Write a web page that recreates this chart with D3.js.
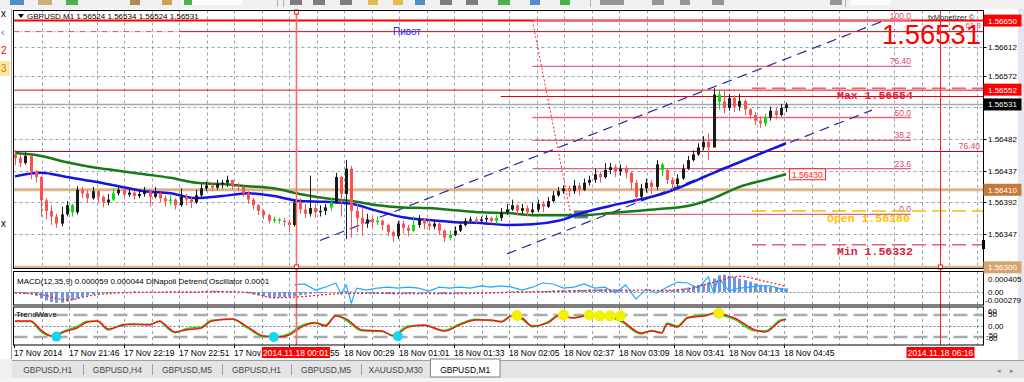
<!DOCTYPE html>
<html>
<head>
<meta charset="utf-8">
<script src="https://cdn.jsdelivr.net/npm/d3@7"></script>
<style>
body { margin: 0; background: #f0f0f0; overflow: hidden; }
text { font-family: "Liberation Sans", Arial, sans-serif; }
.mono { font-family: "Liberation Mono", "Courier New", monospace; font-weight: bold; }
</style>
</head>
<body>
<div id="container"></div>
<script>
// prices are in points (0.00001) above 1.56000
var base = 1.56;
var firstOpen = 460;
var closes = [455,448,458,436,428,395,380,372,362,375,
  388,378,410,405,398,408,400,392,396,405,
  410,403,406,401,404,408,400,405,398,394,
  396,388,400,396,392,402,412,416,413,418,
  420,424,416,414,405,396,388,380,374,366,
  368,366,364,360,392,382,376,384,378,380,
  385,392,428,404,440,380,370,362,368,364,
  366,360,350,344,362,356,352,360,368,362,
  358,362,352,342,346,352,360,366,368,366,
  368,370,366,370,378,382,388,380,384,378,
  382,390,386,394,402,408,412,408,416,410,
  420,424,432,428,438,442,436,440,434,420,
  400,412,420,414,446,438,424,418,426,440,
  452,460,470,478,470,545,535,526,540,528,
  536,524,516,508,504,512,522,516,526,531];
var highs = [466,460,464,458,438,430,398,388,376,386,
  394,390,415,414,410,414,410,402,404,412,
  416,412,412,408,410,414,410,414,406,402,
  402,398,412,404,400,410,418,422,420,424,
  424,430,424,420,416,408,398,390,382,376,
  372,370,370,368,396,398,390,430,390,388,
  390,398,434,430,452,444,390,385,376,372,
  372,368,362,352,366,366,360,372,374,370,
  368,368,364,354,352,358,364,370,372,372,
  372,374,372,374,384,390,396,390,390,388,
  392,396,394,400,408,414,416,416,424,420,
  426,430,440,436,448,448,446,446,444,436,
  424,418,426,424,452,448,440,428,432,446,
  458,466,476,486,490,554,552,550,546,544,
  546,538,526,520,514,518,528,526,532,534];
var lows = [445,442,446,425,420,372,368,360,356,358,
  372,372,375,398,392,396,392,385,388,394,
  402,398,400,396,398,400,386,398,392,386,
  388,382,386,388,384,390,400,408,408,410,
  412,414,410,408,400,390,382,374,368,362,
  363,362,358,350,358,376,370,372,370,372,
  374,380,390,372,340,342,350,345,356,356,
  360,352,344,336,340,348,344,350,356,354,
  352,354,346,336,338,344,350,358,362,362,
  364,364,362,362,366,374,380,374,376,372,
  376,378,378,384,392,400,404,400,404,402,
  408,416,420,420,426,432,428,430,426,410,
  392,396,406,404,410,430,418,410,412,424,
  438,450,458,466,452,470,524,518,522,520,
  522,516,510,502,498,500,508,510,514,520];
var greenBars = [11,19,30,50,51,61,70,77,84,93,125,136,145];

// moving averages, read every 5 bars
var maIdx = [0,5,10,15,20,25,30,35,40,45,50,55,60,65,70,75,80,85,90,95,100,105,110,115,120,125,130,135,140,145,149];
var maBlue = [429,434,428,422,415,408,405,398,401,405,401,394,393,390,380,371,367,364,363,360,361,366,378,387,395,404,418,434,449,464,476];
var maGreen = [462,458,449,442,437,432,427,420,418,415,412,404,398,394,388,385,384,381,378,377,374,374,374,377,380,383,387,398,414,424,432];

var priceTicks = [1.56612,1.56572,1.56527,1.56482,1.56437,1.56392,1.56347];
var priceTickText = ["1.56612","1.56572","","1.56482","1.56437","1.56392","1.56347"];

// horizontal levels with their axis box colours
var levelPrices = [1.56650, 1.56552, 1.56531, 1.56410, 1.56300];
var levelBoxes = ["#ff0000", "#ff0000", "#000000", "#c8793a", "#d9a36e"];

var fibLow = 1.56375, fibHigh = 1.56650;
var fibLevels = [0, 23.6, 38.2, 50, 76.4, 100];
var fibText = ["0.0", "23.6", "38.2", "50.0", "76.40", "100.0"];

var timeLabels = ["17 Nov 2014","17 Nov 21:46","17 Nov 22:19","17 Nov 22:51","17 Nov 23:23","17 Nov 23:55",
  "18 Nov 00:29","18 Nov 01:01","18 Nov 01:33","18 Nov 02:05","18 Nov 02:37","18 Nov 03:09",
  "18 Nov 03:41","18 Nov 04:13","18 Nov 04:45"];
var markSlots = [10.25, 33.69];
var markText = ["2014.11.18 00:01", "2014.11.18 06:16"];

// MACD histogram, 1e-6 units, one per bar
var macdHist = [-40,-50,-60,-80,-120,
  -200,-260,-310,-340,-330,-300,-260,-200,
  -150,-110,-80,-60,-40,
  -30,-20,-10,0,10,20,10,0,-10,-20,-20,-10,0,10,-10,-30,-20,-10,10,30,40,40,30,20,10,0,-20,
  -50,-80,-110,-140,-160,-170,-170,-160,-150,-130,
  -100,-80,-60,-40,-40,-30,-20,-10,10,30,
  20,-10,-30,-40,-50,-50,-60,-70,-70,-60,-50,
  -40,-40,-40,-30,-30,-40,-50,-60,-60,-50,-40,-30,-20,-10,-10,-10,0,0,10,20,
  30,30,20,20,20,30,30,40,50,50,60,60,60,70,70,80,80,90,90,80,
  80,70,60,40,20,0,0,10,20,40,
  50,60,80,110,140,180,220,260,300,
  420,520,540,510,470,420,
  370,320,270,230,200,170,150,130,110];
var macdSig = [-30,-80,-250,-100,-30,-10,0,0,10,-10,-180,-150,-80,-40,-40,-50,-50,-50,-40,-20,0,20,40,60,60,50,100,300,490,330,180];
var dinIdx = [54,56,58,60,62,63,64,65,66,68,70,72,74,76,78,80,82,84,86,88,90,92,94,96,98,100,102,104,106,108,110,112,114,116,118,120,122,124,126,128,130,132,134,135,136,138,140,142,144,146,148,149];
var dinVal = [220,250,60,150,280,-60,220,-340,120,60,120,150,120,150,120,30,150,120,150,120,190,150,190,150,60,150,280,250,120,150,250,120,150,-30,220,-220,90,-30,150,310,280,120,470,-30,430,30,120,150,190,190,90,90];

// TrendWave
var waveIdx = [0,3,5,7,10,12,14,16,18,21,23,26,28,29,31,33,36,38,42,45,48,51,53,55,58,60,62,64,67,71,73,76,79,83,86,89,92,94,96,98,100,103,105,108,110,114,117,121,123,125,126,128,130,134,135,139,143,145,148,149];
var waveRed = [23,23,-18,-45,-23,-9,18,23,-14,5,9,5,23,5,-27,-18,-9,23,32,-5,-45,-50,-41,-9,14,0,45,32,-18,-23,-45,-5,5,-23,5,27,27,18,45,36,0,14,45,36,45,45,27,-32,-23,-32,9,-5,36,50,59,36,-18,-27,23,30];
var waveGreen = [20,20,-25,-45,-18,-2,22,20,-18,8,6,8,20,0,-30,-12,-4,26,30,-10,-48,-47,-35,-2,16,4,48,26,-22,-25,-42,0,2,-20,10,30,24,22,47,30,-4,20,46,38,44,44,22,-36,-20,-30,14,0,40,52,56,30,-22,-22,28,32];
var cyanDots = [8, 50, 74], cyanVals = [-48, -50, -46];
var yellowDots = [97,106,111,113,115,117,136], yellowVals = [48,50,50,46,46,46,58];

var tabNames = ["GBPUSD,H1","GBPUSD,H4","GBPUSD,M5","GBPUSD,H1","GBPUSD,M5","XAUUSD,M30","GBPUSD,M1"];

// ---- layout ----
var width = 1024, height = 382;
var L = 13.5, R = 983.5;

var svg = d3.select("#container").append("svg")
  .attr("width", width).attr("height", height);

var x = d3.scaleLinear().domain([0, closes.length - 1]).range([15, 786]);
var xs = d3.scaleLinear().domain([0, 2]).range([14, 69]);   // time slots, label every 2
var y = d3.scaleLinear().domain([1.56299, 1.56665]).range([268, 10]);
var my = d3.scaleLinear().domain([-405e-6, 623e-6]).range([305, 272]);
var wy = d3.scaleLinear().domain([-86, 86]).range([345, 307]);
function py(v) { return y(base + v / 1e5); }

// window chrome
svg.append("rect").attr("width", width).attr("height", height).attr("fill", "#f0f0f0");
svg.append("rect").attr("x", 0).attr("y", 9).attr("width", 12).attr("height", 350).attr("fill", "#fff");
svg.append("line").attr("x1", 11.5).attr("x2", 11.5).attr("y1", 9).attr("y2", 359).attr("stroke", "#a0a0a0");
svg.append("rect").attr("x", 0).attr("y", 61).attr("width", 10).attr("height", 15).attr("fill", "#f8e9a0");
[["x", 17, "#000"], ["\u2039", 36, "#2060ff"], ["2", 54, "#ff0000"], ["3", 72, "#e07000"], ["x", 227, "#000"]].forEach(function(t) {
  svg.append("text").attr("x", 1).attr("y", t[1]).attr("font-size", 10).attr("fill", t[2]).text(t[0]);
});
// toolbar remnants
var tb = svg.append("g");
[[10,14,"#3070c0"],[38,14,"#c0a060"],[66,12,"#20a020"],[130,10,"#a07030"],[162,10,"#c09030"],[182,60,"#ffffff"],[184,8,"#20a020"],
 [290,12,"#606060"],[313,12,"#606060"],[340,12,"#606060"],[368,10,"#e0b020"],[393,10,"#e0b020"],[415,10,"#3070c0"],[440,12,"#606060"],[466,12,"#606060"],[498,12,"#20a020"],
 [530,10,"#3070c0"],[560,10,"#20a020"],[600,24,"#808080"],[652,12,"#808080"],[680,10,"#808080"],[712,12,"#808080"],[830,12,"#808080"],[851,40,"#ffffff"]]
 .forEach(function(b) {
  tb.append("rect").attr("x", b[0]).attr("y", 0).attr("width", b[1]).attr("height", 5).attr("fill", b[2]).attr("opacity", 0.8);
});
[277, 283, 590, 845].forEach(function(sx) {
  tb.append("line").attr("x1", sx + 0.5).attr("x2", sx + 0.5).attr("y1", 0).attr("y2", 7).attr("stroke", "#b0b0b0");
});

// chart area
svg.append("rect").attr("x", 12).attr("y", 9).attr("width", 1006).attr("height", 351).attr("fill", "#fff");
svg.append("rect").attr("x", 1018).attr("y", 9).attr("width", 6).attr("height", 351).attr("fill", "#e4e8ee");

var panes = [[10.5, 268.5], [271.5, 305], [307, 345]];
svg.append("defs").selectAll("clipPath").data(panes).enter().append("clipPath")
  .attr("id", function(d, i) { return "clip" + i; })
  .append("rect").attr("x", L).attr("y", function(d) { return d[0]; })
  .attr("width", R - L).attr("height", function(d) { return d[1] - d[0]; });

// vertical grid in every pane
var gridSlots = d3.range(1, 36);
panes.forEach(function(p) {
  svg.append("g").selectAll("line").data(gridSlots).enter().append("line")
    .attr("x1", function(d) { return Math.round(xs(d)) + 0.5; })
    .attr("x2", function(d) { return Math.round(xs(d)) + 0.5; })
    .attr("y1", p[0]).attr("y2", p[1])
    .attr("stroke", "#7d8a9a").attr("stroke-dasharray", "3,3").attr("stroke-width", 0.8);
});

// ---- main pane ----
var main = svg.append("g").attr("clip-path", "url(#clip0)");

main.selectAll(".hgrid").data(priceTicks).enter().append("line")
  .attr("x1", L).attr("x2", R)
  .attr("y1", function(d) { return Math.round(y(d)) + 0.5; })
  .attr("y2", function(d) { return Math.round(y(d)) + 0.5; })
  .attr("stroke", "#7d8a9a").attr("stroke-dasharray", "3,3").attr("stroke-width", 0.8);

// bid line
main.append("line").attr("x1", L).attr("x2", R)
  .attr("y1", y(levelPrices[2])).attr("y2", y(levelPrices[2]))
  .attr("stroke", "#a8a8a8").attr("stroke-width", 1.5);

// tan levels
[levelPrices[3], levelPrices[4]].forEach(function(p) {
  main.append("line").attr("x1", L).attr("x2", R).attr("y1", y(p)).attr("y2", y(p))
    .attr("stroke", "#dcb48c").attr("stroke-width", 3);
});

// red levels
main.append("line").attr("x1", L).attr("x2", R).attr("y1", y(levelPrices[0])).attr("y2", y(levelPrices[0]))
  .attr("stroke", "#ff0000").attr("stroke-width", 2);
main.append("line").attr("x1", L).attr("x2", R).attr("y1", y(levelPrices[1]) + 0.5).attr("y2", y(levelPrices[1]) + 0.5)
  .attr("stroke", "#ff0000").attr("stroke-width", 1);
main.append("line").attr("x1", xs(17.7)).attr("x2", R).attr("y1", y(1.56543) + 0.5).attr("y2", y(1.56543) + 0.5)
  .attr("stroke", "#e00010").attr("stroke-width", 1);
main.append("line").attr("x1", L).attr("x2", R).attr("y1", y(1.56465) + 0.5).attr("y2", y(1.56465) + 0.5)
  .attr("stroke", "#b8001a").attr("stroke-width", 1);

// pivot
var pivotY = y(1.56635) + 0.5;
main.append("line").attr("x1", L).attr("x2", 180).attr("y1", pivotY).attr("y2", pivotY)
  .attr("stroke", "#e84050").attr("stroke-dasharray", "6,2,1,2");
main.append("line").attr("x1", 180).attr("x2", R).attr("y1", pivotY).attr("y2", pivotY)
  .attr("stroke", "#e00000");
main.append("text").attr("x", 393).attr("y", pivotY + 3.5).attr("font-size", 10)
  .attr("fill", "#2030ff").text("Пивот");

// fibonacci
var fibX1 = x(100), fibX2 = 911;
main.selectAll(".fib").data(fibLevels).enter().append("line")
  .attr("x1", fibX1).attr("x2", fibX2)
  .attr("y1", function(d) { return y(fibLow + d / 100 * (fibHigh - fibLow)); })
  .attr("y2", function(d) { return y(fibLow + d / 100 * (fibHigh - fibLow)); })
  .attr("stroke", "#e8607c").attr("stroke-width", 1.3);
main.append("line").attr("x1", fibX1).attr("y1", y(fibHigh)).attr("x2", x(107.4)).attr("y2", y(fibLow))
  .attr("stroke", "#ff2a2a").attr("stroke-dasharray", "2,2");
main.selectAll(".fibt").data(fibLevels).enter().append("text")
  .attr("x", fibX2).attr("text-anchor", "end").attr("font-size", 8.5).attr("fill", "#e0486a")
  .attr("y", function(d) { return y(fibLow + d / 100 * (fibHigh - fibLow)) - 2; })
  .text(function(d, i) { return fibText[i]; });
main.append("text").attr("x", 980).attr("y", y(1.56465) - 2).attr("text-anchor", "end")
  .attr("font-size", 8.5).attr("fill", "#e0486a").text("76.40");

// channel
main.append("line").attr("x1", 320).attr("y1", y(1.56338)).attr("x2", 886).attr("y2", y(1.56651))
  .attr("stroke", "#2a2a9a").attr("stroke-width", 1.2).attr("stroke-dasharray", "10,6");
main.append("line").attr("x1", 507).attr("y1", y(1.56319)).attr("x2", 872).attr("y2", y(1.56523))
  .attr("stroke", "#2a2a9a").attr("stroke-width", 1.2).attr("stroke-dasharray", "10,6");

// max / open / min
var statRows = [["Max 1.56554", 1.56554, "#e8607c", "#e0203a", 99, 837],
                ["Open 1.56380", 1.56380, "#f5c000", "#ffc000", 222, 827],
                ["Min 1.56332", 1.56332, "#e8607c", "#e0203a", 255, 837]];
statRows.forEach(function(r) {
  main.append("line").attr("x1", 752).attr("x2", R).attr("y1", y(r[1])).attr("y2", y(r[1]))
    .attr("stroke", r[2]).attr("stroke-width", 1.5).attr("stroke-dasharray", "14,6");
});

// gray marker
main.append("rect").attr("x", x(108)).attr("y", py(375) - 4).attr("width", 14).attr("height", 8).attr("fill", "#66778a");

// moving averages
var maLine = d3.line().curve(d3.curveMonotoneX)
  .x(function(d) { return x(d[0]); }).y(function(d) { return py(d[1]); });
main.append("path").datum(maIdx.map(function(d, i) { return [d, maGreen[i]]; }))
  .attr("d", maLine).attr("fill", "none").attr("stroke", "#177a17").attr("stroke-width", 2.5);
main.append("path").datum(maIdx.map(function(d, i) { return [d, maBlue[i]]; }))
  .attr("d", maLine).attr("fill", "none").attr("stroke", "#1414e6").attr("stroke-width", 2.5);

// candles
var bars = closes.map(function(c, i) {
  var o = i ? closes[i - 1] : firstOpen;
  return { i: i, o: o, c: c, h: Math.max(highs[i], o, c), l: Math.min(lows[i], o, c) };
});
function barColor(d) {
  if (greenBars.indexOf(d.i) >= 0) return "#00e000";
  return d.c >= d.o ? "#1a1a1a" : "#ff5050";
}
var cg = main.append("g");
cg.selectAll(".wick").data(bars).enter().append("line")
  .attr("x1", function(d) { return Math.round(x(d.i)) + 0.5; })
  .attr("x2", function(d) { return Math.round(x(d.i)) + 0.5; })
  .attr("y1", function(d) { return py(d.h); }).attr("y2", function(d) { return py(d.l); })
  .attr("stroke", barColor);
cg.selectAll(".body").data(bars).enter().append("rect")
  .attr("x", function(d) { return Math.round(x(d.i)) - 1; })
  .attr("width", 3)
  .attr("y", function(d) { return py(Math.max(d.o, d.c)); })
  .attr("height", function(d) { return Math.max(1, Math.abs(py(d.o) - py(d.c))); })
  .attr("fill", barColor);

// green MA label
var lastG = maGreen[maGreen.length - 1];
main.append("rect").attr("x", 789.5).attr("y", py(lastG) - 5.5).attr("width", 36).attr("height", 11)
  .attr("fill", "#fff").attr("stroke", "#ff2020");
main.append("text").attr("x", 792).attr("y", py(lastG) + 3.5).attr("font-size", 8.5).attr("fill", "#ff2020").text("1.56430");

statRows.forEach(function(r) {
  main.append("text").attr("class", "mono").attr("x", r[5]).attr("y", r[4])
    .attr("font-size", 11.5).attr("fill", r[3]).text(r[0]);
});

// header texts
main.append("path").attr("d", "M18,14 L24,14 L21,18 Z").attr("fill", "#000");
main.append("text").attr("x", 27).attr("y", 19).attr("font-size", 8).attr("fill", "#000")
  .text("GBPUSD,M1  1.56524 1.56534 1.56524 1.56531");
main.append("text").attr("x", 928).attr("y", 20).attr("font-size", 7.5).attr("fill", "#222").text("fxMonetizer \u00a9");
main.append("text").attr("x", 981).attr("y", 28).attr("text-anchor", "end").attr("font-size", 8).attr("fill", "#e0486a").text("61.8");
main.append("text").attr("x", 882).attr("y", 44).attr("font-size", 27).attr("fill", "#ff0000")
  .attr("textLength", 99).attr("lengthAdjust", "spacingAndGlyphs").text("1.56531");

// ---- MACD pane ----
var mp = svg.append("g").attr("clip-path", "url(#clip1)");
mp.append("line").attr("x1", L).attr("x2", R).attr("y1", Math.round(my(0)) + 0.5).attr("y2", Math.round(my(0)) + 0.5)
  .attr("stroke", "#7d8a9a").attr("stroke-dasharray", "2,2");
mp.selectAll(".hist").data(macdHist).enter().append("rect")
  .attr("x", function(d, i) { return Math.round(x(i)) - 1; })
  .attr("width", 3)
  .attr("y", function(d) { return Math.min(my(0), my(d * 1e-6)); })
  .attr("height", function(d) { return Math.max(0.5, Math.abs(my(d * 1e-6) - my(0))); })
  .attr("fill", "#6d96e6");
var mline = d3.line().curve(d3.curveMonotoneX)
  .x(function(d) { return x(d[0]); }).y(function(d) { return my(d[1] * 1e-6); });
mp.append("path").datum(dinIdx.map(function(d, i) { return [d, dinVal[i]]; }))
  .attr("d", d3.line().x(function(d) { return x(d[0]); }).y(function(d) { return my(d[1] * 1e-6); }))
  .attr("fill", "none").attr("stroke", "#22aaff").attr("stroke-width", 1.2);
mp.append("path").datum(maIdx.map(function(d, i) { return [d, macdSig[i]]; }))
  .attr("d", mline).attr("fill", "none").attr("stroke", "#ff2020").attr("stroke-width", 1.3).attr("stroke-dasharray", "2,2");
mp.append("text").attr("x", 17).attr("y", 284).attr("font-size", 8).attr("fill", "#000")
  .text("MACD(12,35,9) 0.000059 0.000044  DiNapoli Detrend Oscillator 0.0001");

// ---- TrendWave pane ----
var tw = svg.append("g").attr("clip-path", "url(#clip2)");
[50, -50].forEach(function(v) {
  tw.append("line").attr("x1", L).attr("x2", R).attr("y1", wy(v)).attr("y2", wy(v))
    .attr("stroke", "#a4abb3").attr("stroke-width", 2.5).attr("stroke-dasharray", "14,6");
});
tw.append("line").attr("x1", L).attr("x2", R).attr("y1", Math.round(wy(0)) + 0.5).attr("y2", Math.round(wy(0)) + 0.5)
  .attr("stroke", "#6d7a8a").attr("stroke-dasharray", "2,2");
var wline = d3.line().curve(d3.curveMonotoneX)
  .x(function(d) { return x(d[0]); }).y(function(d) { return wy(d[1]); });
tw.append("path").datum(waveIdx.map(function(d, i) { return [d, waveGreen[i]]; }))
  .attr("d", wline).attr("fill", "none").attr("stroke", "#10e010").attr("stroke-width", 1.5);
tw.append("path").datum(waveIdx.map(function(d, i) { return [d, waveRed[i]]; }))
  .attr("d", wline).attr("fill", "none").attr("stroke", "#ff1010").attr("stroke-width", 1.5);
tw.selectAll(".cy").data(cyanDots).enter().append("circle")
  .attr("cx", function(d) { return x(d); }).attr("cy", function(d, i) { return wy(cyanVals[i]); })
  .attr("r", 5).attr("fill", "#10d8ee");
tw.selectAll(".ye").data(yellowDots).enter().append("circle")
  .attr("cx", function(d) { return x(d); }).attr("cy", function(d, i) { return wy(yellowVals[i]); })
  .attr("r", 5.5).attr("fill", "#f2f200");
tw.append("text").attr("x", 16).attr("y", 317).attr("font-size", 8).attr("fill", "#000").text("TrendWave");

// ---- vertical markers ----
markSlots.forEach(function(s, i) {
  var vx = Math.round(xs(s)) + 0.5;
  svg.append("line").attr("x1", vx).attr("x2", vx).attr("y1", 10).attr("y2", 345)
    .attr("stroke", i ? "#ff2020" : "#ff6a6a").attr("stroke-width", i ? 1 : 1.6);
  svg.append("rect").attr("x", vx - 2).attr("y", 265).attr("width", 4).attr("height", 4)
    .attr("fill", "#fff").attr("stroke", "#ff2020");
  if (!i) svg.append("rect").attr("x", vx - 2).attr("y", 10).attr("width", 4).attr("height", 4)
    .attr("fill", "#fff").attr("stroke", "#ff2020");
});

// ---- frames ----
panes.forEach(function(p) {
  svg.append("rect").attr("x", L).attr("y", p[0]).attr("width", R - L).attr("height", p[1] - p[0])
    .attr("fill", "none").attr("stroke", "#000");
});

// ---- price axis ----
var ax = svg.append("g");
ax.selectAll(".tk").data(priceTicks).enter().append("line")
  .attr("x1", R).attr("x2", R + 3)
  .attr("y1", function(d) { return Math.round(y(d)) + 0.5; }).attr("y2", function(d) { return Math.round(y(d)) + 0.5; })
  .attr("stroke", "#000");
ax.selectAll(".tl").data(priceTicks).enter().append("text")
  .attr("x", 988).attr("y", function(d) { return y(d) + 3; })
  .attr("font-size", 8).attr("fill", "#000")
  .text(function(d, i) { return priceTickText[i]; });
levelPrices.forEach(function(p, i) {
  var ly = y(p);
  ax.append("rect").attr("x", R).attr("y", ly - 6).attr("width", 38).attr("height", 12).attr("fill", levelBoxes[i]);
  ax.append("text").attr("x", 988).attr("y", ly + 3).attr("font-size", 8).attr("fill", "#fff").text(p.toFixed(5));
});
ax.append("rect").attr("x", 982).attr("y", 240).attr("width", 3).attr("height", 9).attr("fill", "#000");

// MACD / TrendWave axis text
[["0.000405", 282], ["0.00", 295], ["-0.000279", 303]].forEach(function(t) {
  ax.append("text").attr("x", t[0][0] === "-" ? 985 : 988).attr("y", t[1]).attr("font-size", 8).attr("fill", "#000").text(t[0]);
});
[["60", 314], ["50", 317], ["0.00", 329], ["-50", 338], ["-60", 341]].forEach(function(t) {
  ax.append("text").attr("x", t[0][0] === "-" ? 986 : 988).attr("y", t[1]).attr("font-size", 8).attr("fill", "#000").text(t[0]);
});

// ---- time axis ----
var ta = svg.append("g");
ta.selectAll("text").data(timeLabels).enter().append("text")
  .attr("x", function(d, i) { return xs(2 * i); }).attr("y", 356)
  .attr("font-size", 8.5).attr("fill", "#000").text(function(d) { return d; });
ta.selectAll("line").data(timeLabels).enter().append("line")
  .attr("x1", function(d, i) { return Math.round(xs(2 * i)) + 0.5; })
  .attr("x2", function(d, i) { return Math.round(xs(2 * i)) + 0.5; })
  .attr("y1", 345).attr("y2", 348).attr("stroke", "#000");
markSlots.forEach(function(s, i) {
  var cx = xs(s);
  ta.append("rect").attr("x", cx - 34).attr("y", 347).attr("width", 68).attr("height", 11).attr("fill", "#ff0000");
  ta.append("text").attr("x", cx).attr("y", 356).attr("text-anchor", "middle")
    .attr("font-size", 8.5).attr("fill", "#fff").text(markText[i]);
});

// ---- tabs ----
svg.append("rect").attr("x", 12).attr("y", 360).attr("width", 1012).attr("height", 18).attr("fill", "#e4e4e4");
svg.append("line").attr("x1", 12).attr("x2", 1024).attr("y1", 360.5).attr("y2", 360.5).attr("stroke", "#a0a0a0");
svg.append("rect").attr("x", 0).attr("y", 378).attr("width", 1024).attr("height", 4).attr("fill", "#f4f4f4");
var tabX = d3.scaleBand().domain(d3.range(tabNames.length)).range([13, 500]);
var tg = svg.append("g");
tg.append("rect").attr("x", tabX(6)).attr("y", 359).attr("width", tabX.bandwidth()).attr("height", 18)
  .attr("fill", "#fff").attr("stroke", "#808080");
tg.selectAll(".sep").data(d3.range(1, tabNames.length - 1)).enter().append("line")
  .attr("x1", function(d) { return Math.round(tabX(d)) + 0.5; }).attr("x2", function(d) { return Math.round(tabX(d)) + 0.5; })
  .attr("y1", 364).attr("y2", 375).attr("stroke", "#a0a0a0");
tg.selectAll("text").data(tabNames).enter().append("text")
  .attr("x", function(d, i) { return tabX(i) + tabX.bandwidth() / 2; }).attr("y", 373)
  .attr("text-anchor", "middle").attr("font-size", 8.5)
  .attr("fill", function(d, i) { return i === 6 ? "#000" : "#444"; })
  .text(function(d) { return d; });
tg.append("text").attr("x", 997).attr("y", 373).attr("font-size", 7).attr("fill", "#888").text("\u25c2");
tg.append("text").attr("x", 1010).attr("y", 373).attr("font-size", 7).attr("fill", "#888").text("\u25b8");
</script>
</body>
</html>
